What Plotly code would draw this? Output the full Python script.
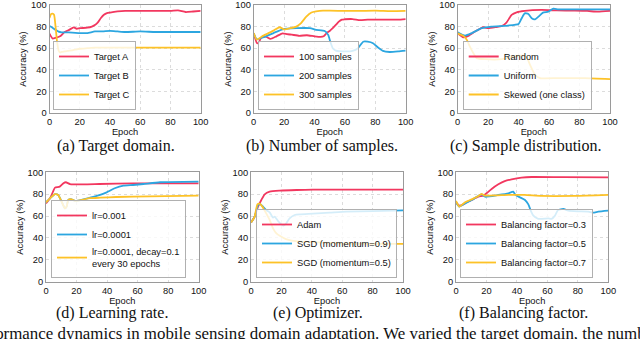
import plotly.graph_objects as go

# ---------------- data ----------------
# (a) Target domain
a_ep_A = [0, 2, 4, 7, 10, 13, 16, 18, 20, 25, 28, 30, 32, 34, 36, 38, 40, 45, 50, 60, 70, 80, 85, 90, 95, 100]
a_target_A = [73.5, 69, 69.5, 71, 75, 77, 79.3, 78, 78.5, 79, 80, 81.5, 84, 88, 91, 92.5, 93, 94, 94.5, 94.5, 94.5, 94.5, 95, 93.5, 94, 94.5]
a_ep_B = [0, 2, 4, 6, 8, 10, 15, 20, 25, 30, 35, 40, 45, 50, 60, 70, 80, 90, 100]
a_target_B = [80.5, 79, 77, 75.3, 74.7, 74.7, 74.5, 74, 74, 75.5, 75.5, 76, 75.5, 75, 75.5, 75, 75, 75, 75]
a_ep_C = [0, 1, 2, 3, 4, 5, 6, 7, 8, 10, 12, 15, 18, 20, 25, 30, 40, 50, 60, 70, 80, 90, 100]
a_target_C = [88, 91.5, 92, 91, 80, 66, 58, 56, 56.5, 57, 57.5, 58, 59, 59.5, 60, 60.5, 60.5, 60.5, 60.5, 60.5, 60.5, 60.5, 60.5]

# (b) Number of samples
b_ep_100 = [0, 1, 2, 3, 5, 8, 11, 15, 19, 22, 25, 30, 35, 40, 44, 46, 48, 50, 52, 54, 56, 58, 60, 65, 70, 75, 80, 85, 90, 95, 100]
b_100 = [73.8, 69, 65, 64.6, 69.8, 70.8, 68.6, 71, 73.8, 73, 72.5, 71.5, 72, 71, 70.5, 71, 74, 76, 78.5, 81.5, 84.6, 86.5, 86.8, 87, 86, 86.5, 86.5, 86.5, 86.5, 86.5, 87]
b_ep_200 = [0, 2, 6, 13, 19, 28, 37, 41, 46.7, 49, 50.4, 52, 54, 61, 65, 68.6, 72, 75, 78.5, 81.8, 85, 89.5, 95, 100]
b_200 = [73.8, 68.3, 70, 74, 77.5, 78.5, 78.5, 77, 76, 72.3, 66, 60, 57.8, 57, 57.5, 60, 66, 66, 64.6, 60.6, 57.5, 56.5, 57, 57.8]
b_ep_300 = [0, 2, 6, 13, 17, 20, 24, 28, 31, 34.6, 38, 41, 45.6, 50, 61, 70, 80, 90, 100]
b_300 = [74, 68, 71.4, 76.3, 79.4, 77.5, 78.5, 80, 83, 89.2, 93, 94, 94.8, 94.8, 94.5, 94.5, 94.8, 94.3, 94.5]

# (c) Sample distribution
c_ep_random = [0, 3.7, 7, 11.4, 16.8, 20, 25, 29, 32, 35.4, 38.7, 44, 55, 65, 77, 85, 92, 100]
c_random = [73.8, 70, 71.4, 75.4, 79.4, 78.5, 79.5, 80.6, 83.7, 90.8, 93.2, 94.5, 95.4, 95, 94.8, 94.5, 93.8, 94.5]
c_ep_uniform = [0, 4.8, 9, 15.8, 22, 33, 40, 42, 44, 46.4, 48.6, 50.8, 53, 56, 59.5, 62.8, 66, 75, 85, 100]
c_uniform = [74.8, 71.7, 73.8, 78.5, 80, 81, 82.5, 87.7, 92.3, 91.7, 87.7, 86.8, 89.2, 92.9, 93.8, 96.6, 96, 96, 96, 96]
c_ep_skewed = [0, 3.7, 6, 8, 10.3, 12.5, 18, 29, 35, 40, 45, 47.5, 50.8, 54, 66, 83.6, 100]
c_skewed = [73.8, 71.4, 67.7, 61.5, 55.4, 50.8, 49.8, 49.8, 51.5, 53, 52.3, 44.6, 35.4, 32.3, 32.3, 32.3, 31.4]

# (d) Learning rate
d_ep_lr1 = [0, 2.6, 4.8, 5.9, 9, 11.4, 13, 15.7, 24.5, 35, 57, 80, 100]
d_lr1 = [71.6, 76.2, 83, 86, 86.9, 90, 90.9, 89.3, 89, 89.3, 89.9, 89.9, 89.9]
d_ep_lr2 = [0, 2.6, 5.9, 8, 10.3, 12.4, 13.5, 14.6, 16.8, 19, 28.8, 35.4, 39.7, 45, 50.7, 57, 63.8, 74.7, 100]
d_lr2 = [72.6, 76.2, 80, 79.3, 73, 67, 68.6, 74.7, 75.3, 73.8, 76.8, 79.3, 81.7, 85.4, 87.8, 88.4, 89.3, 90.9, 91.5]
d_ep_lr3 = [0, 2.6, 5.9, 8, 10.3, 12.4, 13.5, 14.6, 16.8, 19, 28.8, 35.4, 46, 68, 100]
d_lr3 = [72.6, 76.2, 80, 79.3, 73, 67, 68.6, 74.7, 75.3, 73.8, 76.3, 76.8, 77.4, 78, 78.7]

# (e) Optimizer
e_ep_adam = [0, 2.4, 4.6, 6.8, 9, 12.3, 19, 30, 40.8, 60, 80, 100]
e_adam = [54, 59.5, 68.6, 74.7, 79.9, 82.3, 83.2, 83.8, 84.1, 84.1, 84.1, 84.1]
e_ep_sgd9 = [0, 2.4, 4.6, 6.1, 7.9, 10, 12.3, 14.5, 15.6, 17.8, 20, 21.5, 23.2, 25.4, 28.7, 32, 40.8, 51.8, 62.7, 80.3, 100]
e_sgd9 = [54, 59.5, 70, 71, 68.6, 65.5, 63.4, 58.5, 59.5, 55.5, 52.4, 51.2, 53.4, 57.9, 61, 61.6, 62.2, 63.1, 64, 64.6, 65.2]
e_ep_sgd5 = [0, 2.4, 4.2, 5.7, 7.5, 10, 12.3, 14.5, 16.7, 18.9, 23, 32, 45, 62.7, 80, 100]
e_sgd5 = [54, 59.5, 70.7, 71.3, 68.6, 62.5, 56.4, 48.8, 44.2, 42, 39, 36.6, 36, 34.8, 34.6, 34.6]

# (f) Balancing factor
f_ep_03 = [0, 2.2, 4.8, 7, 10.3, 14.7, 18, 20, 23.4, 27.8, 32, 36.5, 43, 49.7, 70, 100]
f_03 = [72.6, 69.5, 70.7, 72.6, 74.7, 77.7, 78.7, 80.8, 84.8, 89, 92, 93.6, 95.1, 95.7, 95.5, 95.4]
f_ep_05 = [0, 2.2, 6, 10.3, 14.7, 16.8, 19, 27.8, 34.4, 37.6, 39, 42, 45.3, 47.5, 49.2, 50.8, 54, 60.6, 62.8, 65, 67, 70.5, 73.7, 80.3, 86.9, 90, 93.4, 100]
f_05 = [72.6, 68.6, 71.6, 74.7, 78.4, 79.9, 77.7, 79.3, 80.8, 82.3, 79.3, 77.1, 74.7, 70.7, 64.6, 60.4, 57.5, 57.8, 57.5, 60.4, 65.5, 66.5, 64.9, 64.3, 64, 63.1, 64, 64.9]
f_ep_07 = [0, 2.2, 6, 10.3, 14.7, 16.8, 19, 34.4, 45, 56, 78, 100]
f_07 = [73.8, 68.6, 72.6, 75.3, 78.4, 80.2, 78.7, 79.3, 79.3, 78.4, 78.4, 79.3]

x_ticks = [0, 20, 40, 60, 80, 100]
y_ticks = [0, 20, 40, 60, 80, 100]

captions = ["(a) Target domain.", "(b) Number of samples.", "(c) Sample distribution.",
            "(d) Learning rate.", "(e) Optimizer.", "(f) Balancing factor."]
bottom_text = ("Performance dynamics in mobile sensing domain adaptation. "
               "We varied the target domain, the number of samples, the sample distribution,")

# ---------------- styling / layout ----------------
RED, BLUE, YELLOW = "#F2375F", "#2CA6E0", "#FDC227"
W, H = 640, 339
SANS = "Liberation Sans, Arial, sans-serif"
SERIF = "Liberation Serif, Times New Roman, serif"
FS = 9.3

panels = [
    [("Target A", a_ep_A, a_target_A, RED), ("Target B", a_ep_B, a_target_B, BLUE), ("Target C", a_ep_C, a_target_C, YELLOW)],
    [("100 samples", b_ep_100, b_100, RED), ("200 samples", b_ep_200, b_200, BLUE), ("300 samples", b_ep_300, b_300, YELLOW)],
    [("Random", c_ep_random, c_random, RED), ("Uniform", c_ep_uniform, c_uniform, BLUE), ("Skewed (one class)", c_ep_skewed, c_skewed, YELLOW)],
    [("lr=0.001", d_ep_lr1, d_lr1, RED), ("lr=0.0001", d_ep_lr2, d_lr2, BLUE), ("lr=0.0001, decay=0.1<br>every 30 epochs", d_ep_lr3, d_lr3, YELLOW)],
    [("Adam", e_ep_adam, e_adam, RED), ("SGD (momentum=0.9)", e_ep_sgd9, e_sgd9, BLUE), ("SGD (momentum=0.5)", e_ep_sgd5, e_sgd5, YELLOW)],
    [("Balancing factor=0.3", f_ep_03, f_03, RED), ("Balancing factor=0.5", f_ep_05, f_05, BLUE), ("Balancing factor=0.7", f_ep_07, f_07, YELLOW)],
]

# pixel boxes of plot areas: (left, right, top, bottom)
boxes = [
    (49.5, 200.7, 5, 113), (253.7, 405.7, 5, 113), (457.7, 610, 5, 113),
    (46, 198.7, 172.3, 281.7), (251, 403, 172.3, 281.7), (456, 608.3, 172.3, 281.7),
]
legend_pos = [(53, 110), (258, 110), (462.7, 110), (51, 278), (256, 278), (460, 278)]
caption_pos = [(115.5, 146), (321.5, 146), (526, 146), (112, 313), (317.5, 313), (523, 313)]

fig = go.Figure()
layout = dict(
    width=W, height=H, margin=dict(l=0, r=0, t=0, b=0),
    paper_bgcolor="white", plot_bgcolor="white",
    font=dict(family=SANS, size=FS, color="#111"),
    annotations=[],
)

for i, series in enumerate(panels):
    k = "" if i == 0 else str(i + 1)
    leg = "legend" + k
    for name, xs, ys, col in series:
        fig.add_trace(go.Scatter(
            x=xs, y=ys, name=name, mode="lines",
            line=dict(color=col, width=1.8, shape="spline", smoothing=0.5),
            xaxis="x" + k, yaxis="y" + k, legend=leg,
        ))
    l, r, t, b = boxes[i]
    common = dict(showline=True, mirror=True, linecolor="#9a9a9a", linewidth=1,
                  showgrid=True, gridcolor="#dcdcdc", griddash="dot", gridwidth=0.8,
                  zeroline=False, ticks="", automargin=False,
                  tickfont=dict(family=SANS, size=FS, color="#111"))
    layout["xaxis" + k] = dict(common, domain=[l / W, r / W], anchor="y" + k,
                               range=[0, 100], tickvals=x_ticks,
                               title=dict(text="Epoch", standoff=0, font=dict(size=FS)))
    layout["yaxis" + k] = dict(common, domain=[1 - b / H, 1 - t / H], anchor="x" + k,
                               range=[0, 100], tickvals=y_ticks,
                               title=dict(text="Accuracy (%)", standoff=2, font=dict(size=FS)))
    lx, ly = legend_pos[i]
    layout[leg] = dict(x=lx / W, y=1 - ly / H, xanchor="left", yanchor="bottom",
                       bgcolor="rgba(255,255,255,0.8)", bordercolor="#b0b0b0", borderwidth=1,
                       font=dict(family=SANS, size=FS, color="#111"), itemwidth=30,
                       tracegroupgap=0)
    cx, cy = caption_pos[i]
    layout["annotations"].append(dict(
        text=captions[i], x=cx / W, y=1 - cy / H, xref="paper", yref="paper",
        xanchor="center", yanchor="middle", showarrow=False,
        font=dict(family=SERIF, size=16, color="#111")))

layout["annotations"].append(dict(
    text=bottom_text, x=-35 / W, y=1 - 333 / H, xref="paper", yref="paper",
    xanchor="left", yanchor="middle", showarrow=False,
    font=dict(family=SERIF, size=16.9, color="#111")))

fig.update_layout(**layout)
fig.write_html("out.html", config={"displayModeBar": False},
               post_script="document.body.style.margin='0';document.body.style.padding='0';")
